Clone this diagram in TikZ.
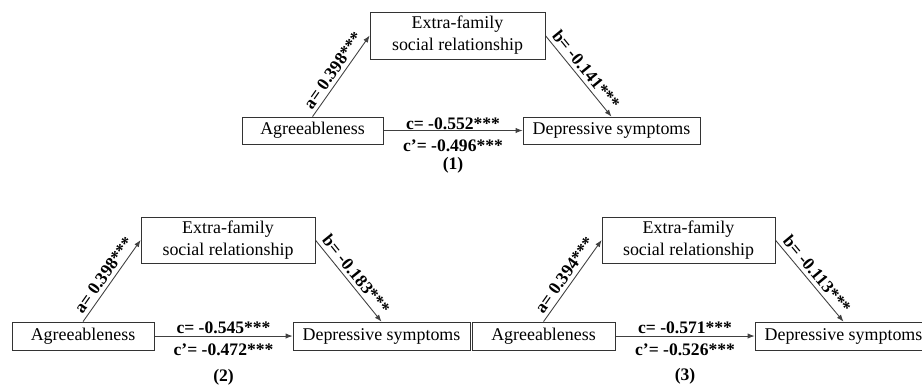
\documentclass[tikz,border=0pt]{standalone}
\usepackage{fontspec}
\setmainfont{Liberation Serif}
\usetikzlibrary{arrows.meta,positioning}
\tikzstyle{box}=[draw=black!80, fill=white, shape=rectangle, inner sep=1pt, align=center, font=\fontsize{10.2}{12.5}\selectfont]
\tikzstyle{path edge}=[-{Latex[length=4pt,width=3pt]}, draw=black!75, line width=0.5pt]
\tikzstyle{coef}=[font=\bfseries\fontsize{10}{12}\selectfont, inner sep=1pt]
\pgfdeclarelayer{nodelayer}
\pgfdeclarelayer{edgelayer}
\pgfsetlayers{edgelayer,nodelayer}

\begin{document}
\begin{tikzpicture}[x=0.02cm, y=-0.02cm]
	\useasboundingbox (0,0) rectangle (922,386);
	\clip (0,0) rectangle (922,386);
	\begin{pgfonlayer}{nodelayer}
		% model (1)
		\node [style=box, minimum width=3.5cm, minimum height=0.94cm] (med1) at (457.5, 35.5) {Extra-family\\social relationship};
		\node [style=box, minimum width=2.82cm, minimum height=0.54cm] (agr1) at (312.5, 130.5) {Agreeableness};
		\node [style=box, minimum width=3.54cm, minimum height=0.54cm] (dep1) at (611.5, 130.5) {Depressive symptoms};
		% model (2)
		\node [style=box, minimum width=3.48cm, minimum height=0.92cm] (med2) at (228, 240) {Extra-family\\social relationship};
		\node [style=box, minimum width=2.84cm, minimum height=0.56cm] (agr2) at (83, 336) {Agreeableness};
		\node [style=box, minimum width=3.54cm, minimum height=0.56cm] (dep2) at (381.5, 336) {Depressive symptoms};
		% model (3)
		\node [style=box, minimum width=3.46cm, minimum height=0.92cm] (med3) at (688.5, 240) {Extra-family\\social relationship};
		\node [style=box, minimum width=2.86cm, minimum height=0.56cm] (agr3) at (543.5, 336) {Agreeableness};
		\node [style=box, minimum width=3.54cm, minimum height=0.56cm] (dep3) at (843.5, 336) {Depressive symptoms};
	\end{pgfonlayer}
	\begin{pgfonlayer}{edgelayer}
		\draw [style=path edge] (agr1.north) to node [style=coef, sloped, above=1pt] (a1) {a= 0.398***} (med1.west);
		\draw [style=path edge] (med1.east) to node [style=coef, sloped, above=1pt] (b1) {b= -0.141***} (dep1.north);
		\draw [style=path edge] (agr1) to node [style=coef, above=-1pt] (c1) {c= -0.552***} node [style=coef, below=4pt] (cp1) {c'= -0.496***} (dep1);
		\node [style=coef, below=1pt of cp1] (n1) {(1)};

		\draw [style=path edge] (agr2.north) to node [style=coef, sloped, above=1pt] (a2) {a= 0.398***} (med2.west);
		\draw [style=path edge] (med2.east) to node [style=coef, sloped, above=1pt] (b2) {b= -0.183***} (dep2.north);
		\draw [style=path edge] (agr2) to node [style=coef, above=0pt] (c2) {c= -0.545***} node [style=coef, below=3pt] (cp2) {c'= -0.472***} (dep2);
		\node [style=coef, below=16pt of cp2.center, anchor=center] (n2) {(2)};

		\draw [style=path edge] (agr3.north) to node [style=coef, sloped, above=1pt] (a3) {a= 0.394***} (med3.west);
		\draw [style=path edge] (med3.east) to node [style=coef, sloped, above=1pt] (b3) {b= -0.113***} (dep3.north);
		\draw [style=path edge] (agr3) to node [style=coef, above=0pt] (c3) {c= -0.571***} node [style=coef, below=3pt] (cp3) {c'= -0.526***} (dep3);
		\node [style=coef, below=15pt of cp3.center, anchor=center] (n3) {(3)};
	\end{pgfonlayer}
\end{tikzpicture}
\end{document}
